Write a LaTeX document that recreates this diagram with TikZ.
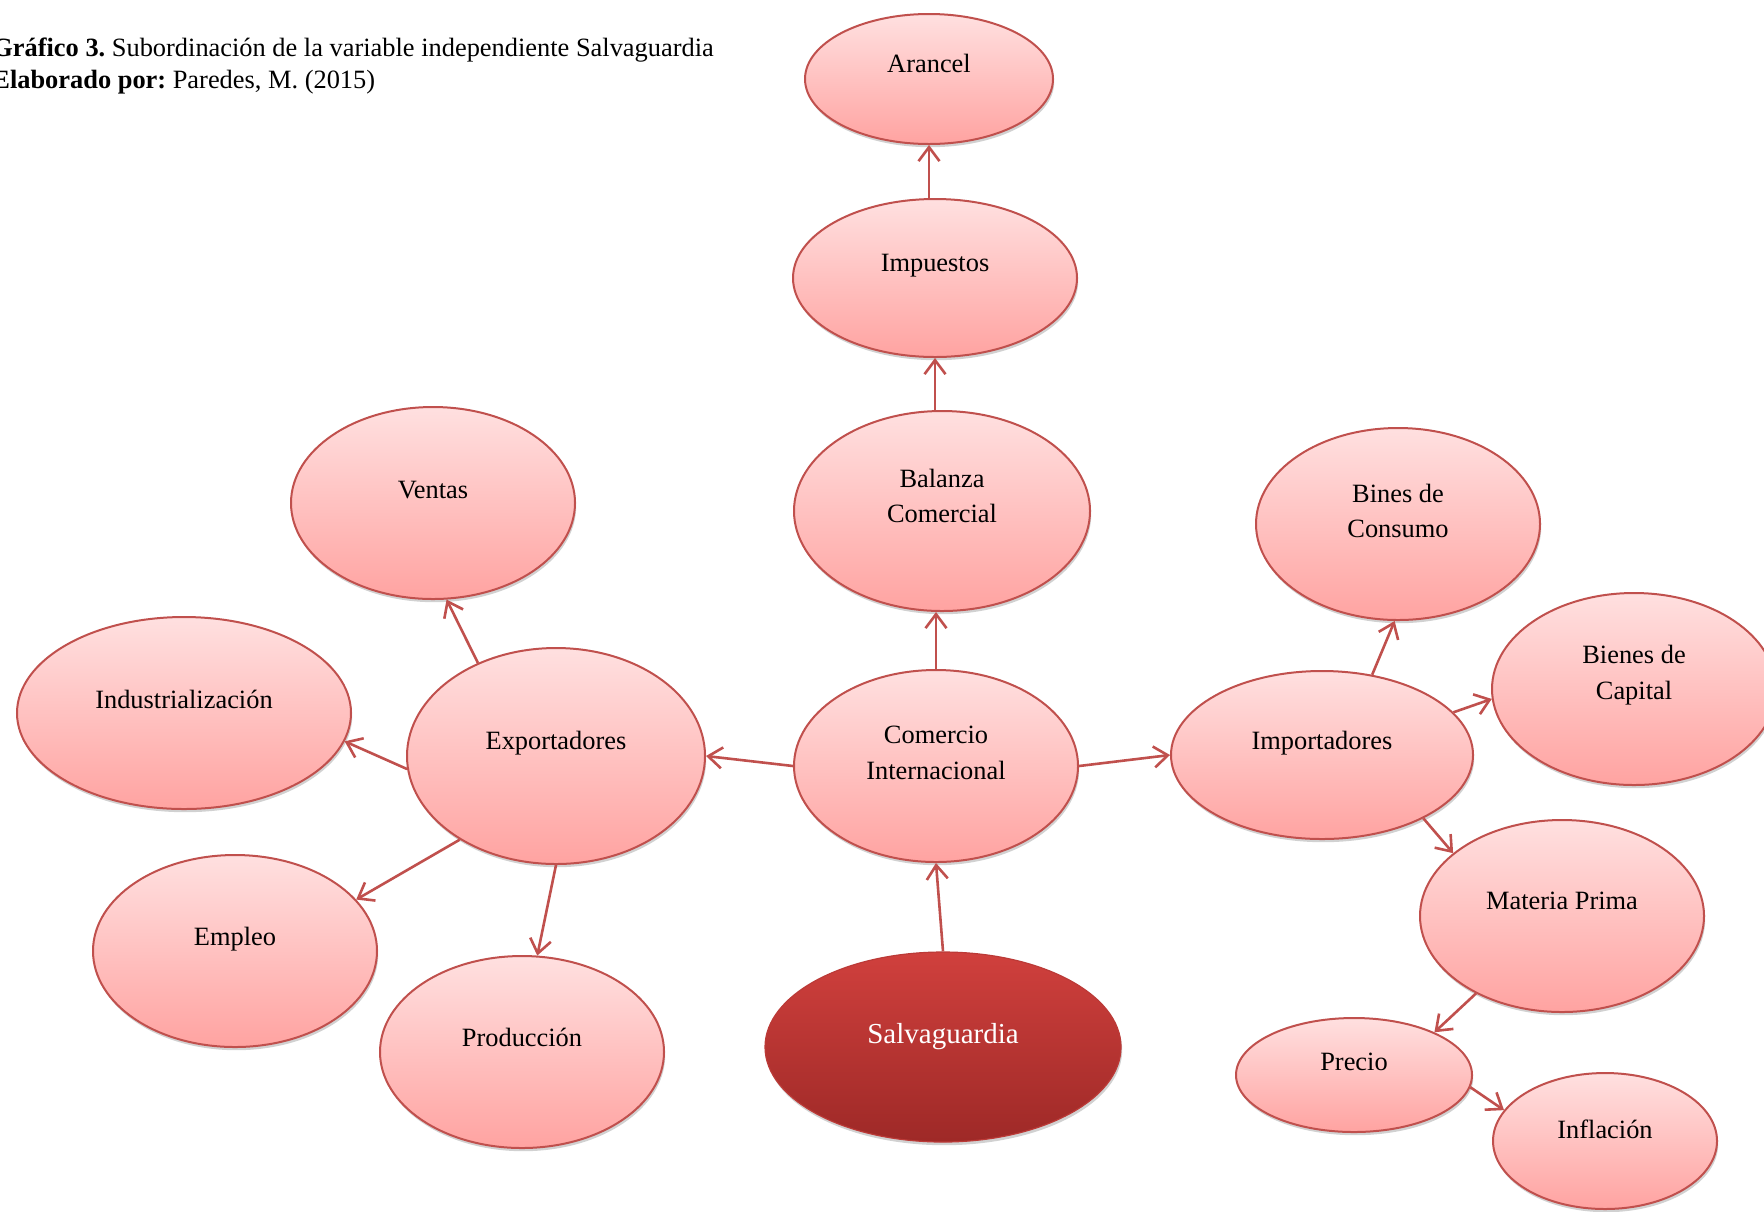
\documentclass[tikz,border=0pt]{standalone}
\usepackage{fontspec}
\setmainfont{Liberation Serif}
\usetikzlibrary{shapes.geometric,arrows.meta,shadows}
\definecolor{accent}{RGB}{192,80,77}
\definecolor{ptop}{RGB}{255,224,224}
\definecolor{pbot}{RGB}{255,163,161}
\definecolor{stop}{RGB}{208,64,61}
\definecolor{sbot}{RGB}{158,41,39}
\frenchspacing
\begin{document}
\begin{tikzpicture}[x=0.5pt,y=-0.5pt,
  ell/.style 2 args={ellipse, inner sep=0pt, minimum width=#1*0.5pt, minimum height=#2*0.5pt},
  bub/.style={draw=accent, line width=1pt, top color=ptop, bottom color=pbot,
    drop shadow={shadow xshift=0.6pt, shadow yshift=-1.6pt, opacity=0.18, fill=black}},
  salvst/.style={draw=stop!90!black, line width=0.6pt, top color=stop, bottom color=sbot,
    drop shadow={shadow xshift=0.6pt, shadow yshift=-1.6pt, opacity=0.18, fill=black}},
  lbl/.style={font={\fontsize{13.2}{17.8}\selectfont}, align=center, inner sep=0pt},
  lbl1/.style={lbl, anchor=base},
  ttl/.style={font={\fontsize{13.2}{16}\selectfont}, inner sep=0pt, anchor=base west},
  arr/.style={draw=accent, line width=1.3pt, -{Straight Barb[length=7pt, width=10.5pt, line width=1.3pt]}}
]
\useasboundingbox (0,0) rectangle (1764,1211);

% ellipses
\node[bub, ell={248}{130}] (aran) at (929,79) {};
\node[bub, ell={284}{158}] (impu) at (935,278) {};
\node[bub, ell={296}{200}] (bal) at (942,511) {};
\node[bub, ell={284}{192}] (ventas) at (433,503) {};
\node[bub, ell={284}{192}] (bines) at (1398,524) {};
\node[bub, ell={334}{192}] (ind) at (184,713) {};
\node[bub, ell={298}{216}] (exp) at (556,756) {};
\node[bub, ell={284}{192}] (com) at (936,766) {};
\node[bub, ell={302}{168}] (impo) at (1322,755) {};
\node[bub, ell={284}{192}] (cap) at (1634,689) {};
\node[bub, ell={284}{192}] (mat) at (1562,916) {};
\node[bub, ell={284}{192}] (empleo) at (235,951) {};
\node[bub, ell={284}{192}] (prod) at (522,1052) {};
\node[salvst, ell={356}{190}] (salv) at (943,1047) {};
\node[bub, ell={236}{114}] (precio) at (1354,1075) {};
\node[bub, ell={224}{136}] (infl) at (1605,1141) {};

% labels
\node[lbl1] (t-aran) at (929,72) {Arancel};
\node[lbl1] (t-impu) at (935,271) {Impuestos};
\node[lbl] (t-bal) at (942,496) {Balanza\\Comercial};
\node[lbl1] (t-ventas) at (433,498) {Ventas};
\node[lbl] (t-bines) at (1398,511) {Bines de\\Consumo};
\node[lbl1] (t-ind) at (184,708) {Industrialización};
\node[lbl1] (t-exp) at (556,749) {Exportadores};
\node[lbl] (t-com) at (936,753) {Comercio\\Internacional};
\node[lbl1] (t-impo) at (1322,749) {Importadores};
\node[lbl] (t-cap) at (1634,675) {Bienes de\\Capital};
\node[lbl1] (t-mat) at (1562,909) {Materia Prima};
\node[lbl1] (t-empleo) at (235,945) {Empleo};
\node[lbl1] (t-prod) at (522,1046) {Producción};
\node[lbl1, text=white, font={\fontsize{14.5}{17.8}\selectfont}] (t-salv) at (943,1043) {Salvaguardia};
\node[lbl1] (t-precio) at (1354,1070) {Precio};
\node[lbl1] (t-infl) at (1605,1138) {Inflación};

% title
\node[ttl] (title1) at (-8,56) {\textbf{Gráfico 3.} Subordinación de la variable independiente Salvaguardia};
\node[ttl] (title2) at (-8,88) {\textbf{Elaborado por:} Paredes, M. (2015)};

% connectors
\draw[arr] (impu.north -| aran.south) -- (aran.south);
\draw[arr] (impu.south |- bal.north) -- (impu.south);
\draw[arr] (com.north) -- (com.north |- bal.south);
\draw[arr] (salv.north) -- (com.south);
\draw[arr] (com.west) -- (exp.east);
\draw[arr] (com.east) -- (impo.west);
\draw[arr] (exp.130) -- (ventas.278);
\draw[arr] (exp.185) -- (ind.350);
\draw[arr] (exp.221) -- (empleo.23);
\draw[arr] (exp.270) -- (prod.81);
\draw[arr] (impo.58) -- (bines.268);
\draw[arr] (impo.18) -- (cap.184);
\draw[arr] (impo.328) -- (mat.150);
\draw[arr] (mat.222) -- (precio.28);
\draw[arr] (precio.354) -- (infl.163);
\end{tikzpicture}
\end{document}
